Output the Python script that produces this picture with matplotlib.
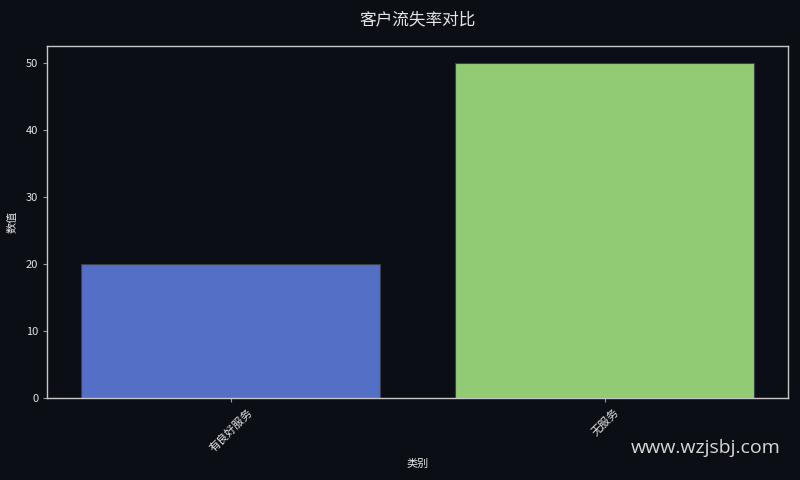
import matplotlib
matplotlib.use("Agg")
import matplotlib.pyplot as plt

plt.rcParams['font.family'] = ['Noto Sans CJK SC', 'DejaVu Sans']

categories = ['有良好服务', '无服务']
values = [20, 50]
colors = ['#5470c6', '#91cc75']

bg = '#0b0e14'
fg = '#e6e6e6'

fig = plt.figure(figsize=(8, 4.8), dpi=100, facecolor=bg)
ax = fig.add_axes([0.059, 0.171, 0.926, 0.733], facecolor=bg)

ax.bar(categories, values, width=0.8, color=colors, edgecolor='#3a3f4a', linewidth=0.8)

ax.set_title('客户流失率对比', color=fg, fontsize=12, pad=16)
ax.set_xlabel('类别', color=fg, fontsize=8, labelpad=4)
ax.set_ylabel('数值', color=fg, fontsize=8, labelpad=6)
plt.setp(ax.get_xticklabels(), rotation=45, ha='center')
ax.tick_params(colors=fg, labelsize=8, length=3)
ax.tick_params(axis='y', color='#999999')
ax.tick_params(axis='x', color='#999999')
for s in ax.spines.values():
    s.set_color('#c8c8c8')
    s.set_linewidth(1)

fig.text(0.976, 0.066, 'www.wzjsbj.com', color='#d8d8d8', fontsize=14,
         ha='right', va='center', family=['Open Sans', 'DejaVu Sans'])

fig.savefig('out.png', dpi=100, facecolor=bg)
